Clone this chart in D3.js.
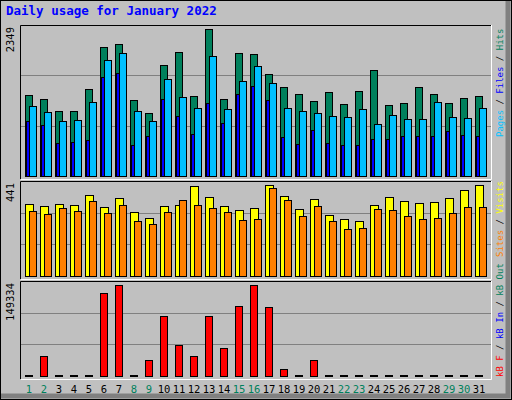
<!DOCTYPE html>
<html><head><meta charset="utf-8">
<script src="https://cdn.jsdelivr.net/npm/d3@7"></script>
<style>body{margin:0;background:#fff}</style>
</head><body><svg id="c" width="512" height="400"></svg>
<script>
const days = d3.range(1, 32);
const weekend = [1, 2, 8, 9, 15, 16, 22, 23, 29, 30];
const hits = [1297,1234,1042,1042,1393,2063,2110,1218,1011,1776,1983,1282,2349,1234,1967,1951,1632,1425,1313,1202,1345,1154,1361,1696,1138,1170,1425,1313,1170,1250,1282];
const files = [1122,1027,883,899,1186,1855,1967,1042,883,1553,1266,1090,1919,1074,1521,1760,1489,1090,1042,1011,963,947,1074,835,979,915,915,1186,947,931,1090];
const pages = [883,819,532,548,580,1584,1648,500,644,1234,963,676,1170,851,1313,1441,1218,628,516,740,532,500,500,596,596,644,644,644,724,660,644];
const visits = [350,340,350,345,393,335,379,311,282,340,345,436,383,340,321,330,441,388,326,374,297,278,268,345,383,364,355,359,379,417,441];
const sites = [316,302,330,316,364,306,345,268,253,311,369,345,330,311,273,278,427,369,292,340,268,229,234,326,321,292,278,282,306,335,335];
const kbytes = [0,32081,0,0,0,136305,149334,0,25567,98850,51623,32081,98850,46738,115135,149334,113506,10911,0,25567,0,0,0,0,0,0,0,0,0,0,0];

const C = {hits:'#00805c', files:'#00c0ff', pages:'#0000ff', visits:'#ffff00', sites:'#ff8000', kb:'#ff0000', gray:'#c0c0c0'};
const mono = "'DejaVu Sans Mono', monospace";
const svg = d3.select('#c');

// frame with bevel
svg.append('rect').attr('width', 512).attr('height', 400).attr('fill', C.gray);
svg.append('path').attr('d', 'M508,1 V396 H1').attr('fill', 'none').attr('stroke', '#808080').attr('stroke-width', 5);
svg.append('rect').attr('x', 0.5).attr('y', 0.5).attr('width', 511).attr('height', 399).attr('fill', 'none').attr('stroke', '#000');

svg.append('text').attr('x', 6).attr('y', 15).attr('fill', '#0000ff')
  .style('font', `bold 12.5px ${mono}`).text('Daily usage for January 2022');

const x = d3.scaleBand().domain(days).range([25, 490]);

function panel(top, bottom, max, label) {
  svg.append('rect').attr('x', 20).attr('y', top).attr('width', 471).attr('height', bottom - top + 3).attr('fill', C.gray);
  svg.append('path').attr('d', `M20.5,${bottom + 3} V${top + 0.5} H491`).attr('fill', 'none').attr('stroke', '#000');
  svg.append('path').attr('d', `M21,${bottom + 3.5} H491.5 V${top}`).attr('fill', 'none').attr('stroke', '#fff');
  const y = d3.scaleLinear().domain([0, max]).range([bottom, top + 4]);
  [1, 2].forEach(i => {
    const gy = Math.round(bottom - (bottom - top) * i / 3) + 0.5;
    svg.append('line').attr('x1', 21).attr('x2', 491).attr('y1', gy).attr('y2', gy).attr('stroke', '#808080');
  });
  svg.append('text').attr('transform', `translate(14,${top + 2}) rotate(-90)`).attr('text-anchor', 'end')
    .style('font', `10.5px ${mono}`).text(label);
  return y;
}

function bars(y, data, color, dx, w) {
  svg.append('g').selectAll('rect').data(data).join('rect')
    .attr('x', (d, i) => x(days[i]) + dx + 0.5)
    .attr('y', d => Math.min(Math.round(y(d)), y.range()[0] - 1) + 0.5)
    .attr('width', w)
    .attr('height', d => Math.max(1, y.range()[0] - Math.round(y(d))))
    .attr('fill', color).attr('stroke', '#000');
}

function legend(cx, ybot, parts) {
  const t = svg.append('text').attr('transform', `translate(${cx},${ybot}) rotate(-90)`)
    .style('font', `9px ${mono}`);
  parts.forEach(([s, c]) => t.append('tspan').attr('fill', c).text(s));
}

// panel 1
const y1 = panel(25, 176, d3.max(hits), d3.max(hits));
bars(y1, hits, C.hits, 0, 7);
bars(y1, pages, C.pages, 1, 3);
bars(y1, files, C.files, 4, 7);
legend(503, 137, [['Pages', C.files], [' / ', '#000'], ['Files', C.pages], [' / ', '#000'], ['Hits', C.hits]]);

// panel 2
const y2 = panel(181, 276, d3.max(visits), d3.max(visits));
bars(y2, visits, C.visits, 0, 8);
bars(y2, sites, C.sites, 4, 7);
legend(503, 257, [['Sites', C.sites], [' / ', '#000'], ['Visits', C.visits]]);

// panel 3
const y3 = panel(281, 376, d3.max(kbytes), d3.max(kbytes));
bars(y3, kbytes, C.kb, 0, 7);
legend(503, 377, [['kB F', C.kb], [' / ', '#000'], ['kB In', C.pages], [' / ', '#000'], ['kB Out', C.hits]]);

// day labels
svg.append('g').selectAll('text').data(days).join('text')
  .attr('x', d => x(d) + 4).attr('y', 393).attr('text-anchor', 'middle')
  .attr('fill', d => weekend.includes(d) ? C.hits : '#000')
  .style('font', `10.5px ${mono}`).text(d => d);
</script></body></html>
